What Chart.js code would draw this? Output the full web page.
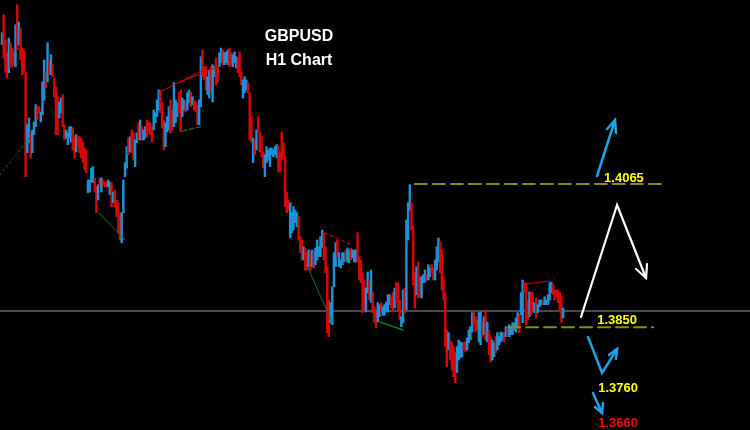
<!DOCTYPE html>
<html lang="en">
<head>
    <meta charset="UTF-8">
    <title>GBPUSD H1 Chart</title>
    <script src="https://cdn.jsdelivr.net/npm/chart.js@4"></script>
    <style>
        html, body { margin: 0; padding: 0; background: #000; }
        canvas { display: block; }
    </style>
</head>
<body>
    <canvas id="chart" width="750" height="430"></canvas>

    <script>
        // Hourly candles (open / close)
        const opens = [
            1.4274, 1.4319, 1.4281, 1.4262, 1.4232, 1.4277, 1.4269, 1.4262, 1.4241, 1.4334,
            1.4274, 1.4299, 1.4269, 1.4266, 1.4233, 1.4112, 1.4127, 1.4142, 1.4112, 1.4139,
            1.4151, 1.4181, 1.4181, 1.4158, 1.4169, 1.4191, 1.4232, 1.4218, 1.4251, 1.4229,
            1.4244, 1.4224, 1.4211, 1.4196, 1.4164, 1.4172, 1.4199, 1.4154, 1.4134, 1.4124,
            1.4134, 1.4128, 1.4149, 1.4136, 1.4113, 1.4136, 1.4136, 1.4134, 1.4128, 1.4119,
            1.4116, 1.4052, 1.4053, 1.4068, 1.4067, 1.4074, 1.4061, 1.4041, 1.4074, 1.4053,
            1.4071, 1.4068, 1.4068, 1.4061, 1.4049, 1.4067, 1.4037, 1.4056, 1.4041, 1.4037,
            1.4022, 1.3977, 1.4022, 1.4076, 1.4089, 1.4134, 1.4113, 1.4146, 1.4142, 1.4091,
            1.4127, 1.4157, 1.4131, 1.4151, 1.4131, 1.4134, 1.4161, 1.4158, 1.4157, 1.4151,
            1.4146, 1.4157, 1.4166, 1.4176, 1.4206, 1.4187, 1.4161, 1.4121, 1.4143, 1.4146,
            1.4191, 1.4176, 1.4151, 1.4157, 1.4166, 1.4202, 1.4206, 1.4166, 1.4176, 1.4188,
            1.4176, 1.4187, 1.4203, 1.4184, 1.4191, 1.4188, 1.4184, 1.4154, 1.4181, 1.4266,
            1.4241, 1.4241, 1.4199, 1.4194, 1.4241, 1.4188, 1.4226, 1.4254, 1.4241, 1.4241,
            1.4247, 1.4266, 1.4244, 1.4247, 1.4244, 1.4269, 1.4262, 1.4241, 1.4247, 1.4239,
            1.4254, 1.4263, 1.4233, 1.4194, 1.4202, 1.4206, 1.4217, 1.4202, 1.4166, 1.4097,
            1.4131, 1.4116, 1.4166, 1.4143, 1.4136, 1.4113, 1.4076, 1.4097, 1.4101, 1.4091,
            1.4109, 1.4106, 1.4109, 1.4104, 1.4121, 1.4112, 1.4143, 1.4127, 1.4106, 1.4053,
            1.4041, 1.3984, 1.3992, 1.3996, 1.4007, 1.4001, 1.4016, 1.3986, 1.3981, 1.3951,
            1.3969, 1.3962, 1.3941, 1.3963, 1.3941, 1.3962, 1.3944, 1.3951, 1.3956, 1.3956,
            1.3969, 1.3992, 1.3971, 1.3941, 1.3891, 1.3857, 1.3854, 1.3911, 1.3941, 1.3981,
            1.3941, 1.3939, 1.3944, 1.3948, 1.3966, 1.3948, 1.3947, 1.3969, 1.3954, 1.3948,
            1.3948, 1.3992, 1.3956, 1.3951, 1.3932, 1.3921, 1.3873, 1.3902, 1.3921, 1.3887,
            1.3903, 1.3881, 1.3876, 1.3858, 1.3866, 1.3887, 1.3868, 1.3868, 1.3873, 1.3873,
            1.3884, 1.3896, 1.3902, 1.3879, 1.3917, 1.3917, 1.3891, 1.3851, 1.3857, 1.3909,
            1.3876, 1.3981, 1.4026, 1.4037, 1.4001, 1.3932, 1.3899, 1.3948, 1.3926, 1.3894,
            1.3917, 1.3918, 1.3929, 1.3921, 1.3926, 1.3944, 1.3939, 1.3921, 1.3936, 1.3948,
            1.3978, 1.3966, 1.3926, 1.3902, 1.3846, 1.3816, 1.3831, 1.3827, 1.3821, 1.3812,
            1.3782, 1.3801, 1.3804, 1.3806, 1.3828, 1.3828, 1.3816, 1.3827, 1.3831, 1.3843,
            1.3872, 1.3866, 1.3861, 1.3828, 1.3824, 1.3858, 1.3839, 1.3876, 1.3828, 1.3846,
            1.3836, 1.3801, 1.3806, 1.3836, 1.3816, 1.3824, 1.3828, 1.3831, 1.3842, 1.3836,
            1.3849, 1.3836, 1.3839, 1.3839, 1.3846, 1.3843, 1.3849, 1.3869, 1.3869, 1.3857,
            1.3917, 1.3917, 1.3891, 1.3866, 1.3903, 1.3902, 1.3872, 1.3894, 1.3872, 1.3881,
            1.3884, 1.3888, 1.3884, 1.3884, 1.3884, 1.3891, 1.3902, 1.3914, 1.3906, 1.3906,
            1.3906, 1.3903, 1.3896, 1.3864
        ];
        const closes = [
            1.4292, 1.4254, 1.4233, 1.4224, 1.4284, 1.4241, 1.4241, 1.4244, 1.4304, 1.4266,
            1.4308, 1.4251, 1.4229, 1.4232, 1.4076, 1.4154, 1.4164, 1.4104, 1.4146, 1.4158,
            1.4184, 1.4161, 1.4172, 1.4173, 1.4218, 1.4251, 1.4209, 1.4277, 1.4229, 1.4259,
            1.4226, 1.4196, 1.4139, 1.4139, 1.4188, 1.4194, 1.4151, 1.4131, 1.4146, 1.4142,
            1.4151, 1.4151, 1.4116, 1.4104, 1.4139, 1.4121, 1.4112, 1.4104, 1.4097, 1.4086,
            1.4082, 1.4071, 1.4071, 1.4089, 1.4091, 1.4053, 1.4022, 1.4064, 1.4061, 1.4074,
            1.4064, 1.4061, 1.4061, 1.4071, 1.4068, 1.4031, 1.4053, 1.4031, 1.4016, 1.3992,
            1.3981, 1.4022, 1.4071, 1.4097, 1.4121, 1.4109, 1.4136, 1.4112, 1.4101, 1.4131,
            1.4142, 1.4131, 1.4161, 1.4131, 1.4146, 1.4151, 1.4136, 1.4143, 1.4139, 1.4128,
            1.4176, 1.4172, 1.4191, 1.4206, 1.4172, 1.4149, 1.4116, 1.4157, 1.4166, 1.4181,
            1.4142, 1.4146, 1.4217, 1.4191, 1.4187, 1.4172, 1.4143, 1.4194, 1.4191, 1.4173,
            1.4202, 1.4206, 1.4181, 1.4196, 1.4176, 1.4173, 1.4154, 1.4191, 1.4256, 1.4226,
            1.4221, 1.4206, 1.4226, 1.4236, 1.4202, 1.4244, 1.4241, 1.4214, 1.4218, 1.4262,
            1.4269, 1.4244, 1.4262, 1.4263, 1.4266, 1.4241, 1.4244, 1.4259, 1.4263, 1.4256,
            1.4232, 1.4226, 1.4214, 1.4221, 1.4226, 1.4221, 1.4202, 1.4131, 1.4128, 1.4134,
            1.4109, 1.4146, 1.4142, 1.4113, 1.4106, 1.4089, 1.4109, 1.4121, 1.4116, 1.4119,
            1.4119, 1.4116, 1.4121, 1.4124, 1.4083, 1.4083, 1.4101, 1.4106, 1.4031, 1.4022,
            1.4026, 1.4037, 1.4022, 1.4031, 1.4026, 1.4022, 1.3981, 1.3962, 1.3951, 1.3971,
            1.3936, 1.3936, 1.3966, 1.3936, 1.3966, 1.3939, 1.3969, 1.3981, 1.3971, 1.3986,
            1.3996, 1.3951, 1.3932, 1.3842, 1.3836, 1.3887, 1.3911, 1.3962, 1.3977, 1.3956,
            1.3962, 1.3951, 1.3962, 1.3962, 1.3951, 1.3969, 1.3966, 1.3951, 1.3966, 1.3966,
            1.3966, 1.3948, 1.3921, 1.3917, 1.3872, 1.3876, 1.3909, 1.3933, 1.3891, 1.3936,
            1.3872, 1.3857, 1.3849, 1.3887, 1.3884, 1.3872, 1.3881, 1.3884, 1.3888, 1.3899,
            1.3899, 1.3879, 1.3873, 1.3909, 1.3887, 1.3876, 1.3861, 1.3866, 1.3906, 1.3872,
            1.4011, 1.4037, 1.4064, 1.3996, 1.3914, 1.3879, 1.3941, 1.3894, 1.3896, 1.3926,
            1.3929, 1.3936, 1.3921, 1.3944, 1.3939, 1.3932, 1.3921, 1.3951, 1.3971, 1.3984,
            1.3932, 1.3906, 1.3891, 1.3821, 1.3791, 1.3842, 1.3801, 1.3786, 1.3776, 1.3767,
            1.3821, 1.3831, 1.3828, 1.3827, 1.3816, 1.3813, 1.3834, 1.3846, 1.3851, 1.3872,
            1.3854, 1.3843, 1.3846, 1.3872, 1.3873, 1.3836, 1.3866, 1.3831, 1.3858, 1.3809,
            1.3798, 1.3831, 1.3827, 1.3812, 1.3842, 1.3836, 1.3843, 1.3842, 1.3828, 1.3851,
            1.3839, 1.3854, 1.3851, 1.3857, 1.3857, 1.3864, 1.3872, 1.3842, 1.3902, 1.3921,
            1.3902, 1.3854, 1.3861, 1.3903, 1.3869, 1.3876, 1.3887, 1.3864, 1.3884, 1.3891,
            1.3891, 1.3884, 1.3896, 1.3891, 1.3899, 1.3917, 1.3918, 1.3899, 1.3891, 1.3896,
            1.3887, 1.3873, 1.3857, 1.3879
        ];

        // Levels
        const bidPrice = 1.38745;
        const resistance = 1.4065;
        const support = 1.3850;
        const resistanceSpan = [245, 393.5];
        const supportSpan = [300.3, 386.4];

        // Hand drawn arrows, [bar index, price]
        const whitePath = [[343.6, 1.38655], [365.0, 1.40335], [382.2, 1.3924]];
        const whiteHead = [[376.3, 1.39375], [382.2, 1.3924], [382.8, 1.3945]];
        const upPath = [[353.1, 1.4077], [363.8, 1.4161]];
        const upHead = [[359.1, 1.41475], [363.8, 1.4161], [364.4, 1.41415]];
        const vPath = [[347.8, 1.38355], [356.1, 1.37815], [365.0, 1.38175]];
        const vHead = [[360.2, 1.38085], [365.0, 1.38175], [364.4, 1.38025]];
        const downPath = [[350.7, 1.37515], [356.1, 1.37215]];
        const downHead = [[351.9, 1.37305], [356.1, 1.37215], [356.7, 1.37365]];

        // Zigzag indicator lines
        const greenDots = [[-1.2, 1.40785], [16.6, 1.41355]];
        const greenLineA = [[57.6, 1.40215], [73.0, 1.3981]];
        const greenDash = [[107.4, 1.41445], [119.3, 1.4152]];
        const greenLineB = [[181.6, 1.3939], [195.8, 1.3858]];
        const greenLineC = [[224.3, 1.3858], [238.0, 1.3846]];
        const redLineA = [[95.0, 1.42045], [121.7, 1.4239]];
        const redLineB = [[104.5, 1.42165], [127.6, 1.42405]];
        const redDots = [[191.7, 1.39915], [207.7, 1.39735]];
        const redBox = [[311.0, 1.38535], [311.0, 1.3915], [325.2, 1.39195]];

        // Price labels
        const labelTexts = ['1.4065', '1.3850', '1.3760', '1.3660'];
        const labelX = [369.1, 365.0, 365.6, 365.6];
        const labelY = [1.4074, 1.3861, 1.3759, 1.37065];
        const labelColors = ['#ffff00', '#ffff00', '#ffff00', '#ff0000'];

        function line(points, color, width, dash, order) {
            return {
                type: 'line',
                data: points.map(p => ({ x: p[0], y: p[1] })),
                borderColor: color,
                borderWidth: width,
                borderDash: dash || [],
                borderCapStyle: 'round',
                pointRadius: 0,
                fill: false,
                tension: 0,
                order: order || 1
            };
        }

        const candles = {
            type: 'bar',
            data: opens.map((o, i) => ({ x: i, y: [o, closes[i]] })),
            backgroundColor: opens.map((o, i) => closes[i] >= o ? '#1b92d6' : '#d40808'),
            barThickness: 1.8,
            order: 10
        };

        const xMin = -1.2, xMax = 443.9;

        const textPlugin = {
            id: 'texts',
            afterDraw(chart) {
                const { ctx, scales } = chart;
                ctx.save();
                ctx.textAlign = 'center';
                ctx.fillStyle = '#ffffff';
                ctx.font = 'bold 16px "Liberation Sans", Arial, sans-serif';
                ctx.textBaseline = 'alphabetic';
                ctx.fillText('GBPUSD', 299, 41);
                ctx.fillText('H1 Chart', 299, 65);

                ctx.font = 'bold 13px "Liberation Sans", Arial, sans-serif';
                ctx.textBaseline = 'middle';
                labelTexts.forEach((t, i) => {
                    ctx.fillStyle = labelColors[i];
                    ctx.fillText(t, scales.x.getPixelForValue(labelX[i]), scales.y.getPixelForValue(labelY[i]));
                });
                ctx.restore();
            }
        };

        new Chart(document.getElementById('chart'), {
            type: 'bar',
            data: {
                datasets: [
                    line([[xMin, bidPrice], [xMax, bidPrice]], '#8596ab', 1, null, 20),
                    candles,
                    line(greenDots, '#0c6e0c', 1, [2, 3]),
                    line(greenLineA, '#0c7a0c', 1),
                    line(greenDash, '#0c6e0c', 1.5, [4, 3]),
                    line(greenLineB, '#0c7a0c', 1),
                    line(greenLineC, '#0c7a0c', 1.5),
                    line(redLineA, '#e00000', 1),
                    line(redLineB, '#e00000', 1),
                    line(redDots, '#a00000', 1.5, [3, 3]),
                    line(redBox, '#d00000', 1),
                    line([[resistanceSpan[0], resistance], [resistanceSpan[1], resistance]], '#8c8c14', 2, [12, 6]),
                    line([[supportSpan[0], support], [supportSpan[1], support]], '#8c8c14', 2, [12, 6]),
                    line(whitePath, '#ffffff', 2.2),
                    line(whiteHead, '#ffffff', 2.2),
                    line(upPath, '#1ea3e8', 2.5),
                    line(upHead, '#1ea3e8', 2.5),
                    line(vPath, '#1ea3e8', 2.5),
                    line(vHead, '#1ea3e8', 2.5),
                    line(downPath, '#1ea3e8', 2.5),
                    line(downHead, '#1ea3e8', 2.5)
                ]
            },
            options: {
                responsive: false,
                animation: false,
                layout: { padding: 0 },
                plugins: {
                    legend: { display: false },
                    tooltip: { enabled: false }
                },
                scales: {
                    x: { type: 'linear', min: xMin, max: xMax, offset: false, display: false },
                    y: { min: 1.3696, max: 1.4341, display: false }
                }
            },
            plugins: [textPlugin]
        });
    </script>
</body>
</html>
